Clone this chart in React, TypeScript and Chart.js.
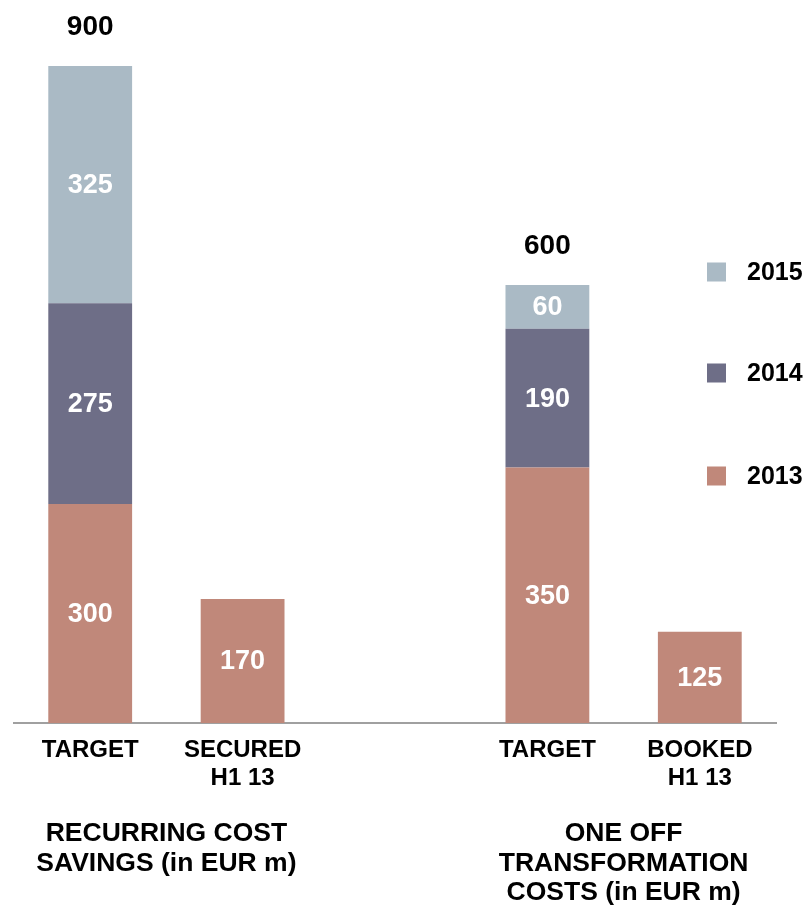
import React, { useEffect, useRef } from "react";
import { Chart, registerables } from "chart.js";

Chart.register(...registerables);

const categories: (string | string[])[] = [
  "TARGET",
  ["SECURED", "H1 13"],
  "",
  "TARGET",
  ["BOOKED", "H1 13"],
];
const seriesNames = ["2013", "2014", "2015"];
const values2013: (number | null)[] = [300, 170, null, 350, 125];
const values2014: (number | null)[] = [275, null, null, 190, null];
const values2015: (number | null)[] = [325, null, null, 60, null];
const groupLabels: string[][] = [
  ["RECURRING COST", "SAVINGS (in EUR m)"],
  ["ONE OFF", "TRANSFORMATION", "COSTS (in EUR m)"],
];
const groupMembers: number[][] = [
  [0, 1],
  [3, 4],
];
const yMax = 900;

const COLORS = ["#C0887A", "#6E6E87", "#AABAC5"];
const FONT = "'Liberation Sans', Arial, sans-serif";

const labelsPlugin = {
  id: "customLabels",
  afterDraw(chart: any) {
    const ctx = chart.ctx;
    ctx.save();
    ctx.textAlign = "center";
    ctx.textBaseline = "middle";
    // segment values
    ctx.font = `bold 27px ${FONT}`;
    ctx.fillStyle = "#FFFFFF";
    chart.data.datasets.forEach((ds: any, di: number) => {
      const meta = chart.getDatasetMeta(di);
      meta.data.forEach((el: any, i: number) => {
        const v = ds.data[i];
        if (v == null) return;
        ctx.fillText(String(v), el.x, (el.y + el.base) / 2 + 1);
      });
    });
    // totals for stacked bars
    ctx.font = `bold 28px ${FONT}`;
    ctx.fillStyle = "#000000";
    const n = chart.data.labels.length;
    for (let i = 0; i < n; i++) {
      let count = 0;
      let total = 0;
      let topY = Infinity;
      let x = 0;
      chart.data.datasets.forEach((ds: any, di: number) => {
        const v = ds.data[i];
        if (v == null) return;
        count++;
        total += v;
        const el = chart.getDatasetMeta(di).data[i];
        x = el.x;
        topY = Math.min(topY, el.y);
      });
      if (count > 1) ctx.fillText(String(total), x, topY - 39);
    }
    // group labels
    const xs = chart.scales.x;
    ctx.font = `bold 26.5px ${FONT}`;
    groupLabels.forEach((lines, gi) => {
      const mem = groupMembers[gi];
      const cx =
        mem.reduce((a, idx) => a + xs.getPixelForValue(idx), 0) / mem.length;
      const startY = 834;
      lines.forEach((line, li) => {
        ctx.fillText(line, cx, startY + li * 29.5);
      });
    });
    // legend
    const legendY = [476, 373, 272];
    ctx.font = `bold 25px ${FONT}`;
    ctx.textAlign = "left";
    seriesNames.forEach((name, si) => {
      const y = legendY[si];
      ctx.fillStyle = COLORS[si];
      ctx.fillRect(707, y - 9.5, 19, 19);
      ctx.fillStyle = "#000000";
      ctx.fillText(name, 747, y + 1);
    });
    ctx.restore();
  },
};

export default function App() {
  const ref = useRef<HTMLCanvasElement>(null);
  useEffect(() => {
    if (!ref.current) return;
    const chart = new Chart(ref.current, {
      type: "bar",
      data: {
        labels: categories,
        datasets: [values2013, values2014, values2015].map((d, i) => ({
          label: seriesNames[i],
          data: d,
          backgroundColor: COLORS[i],
          borderWidth: 0,
          barPercentage: 0.55,
          categoryPercentage: 1,
        })),
      },
      options: {
        responsive: false,
        animation: false,
        layout: { padding: { left: 14, right: 32, top: 66, bottom: 0 } },
        plugins: {
          legend: { display: false },
          tooltip: { enabled: false },
          title: { display: false },
        },
        scales: {
          x: {
            stacked: true,
            grid: { display: false, drawTicks: false },
            border: { display: true, color: "#A0A0A0", width: 2 },
            ticks: {
              color: "#000000",
              padding: 13,
              maxRotation: 0,
              autoSkip: false,
              font: { family: FONT, size: 24, weight: "bold", lineHeight: 28 / 24 },
            },
            afterFit: (scale: any) => {
              scale.height = 186;
            },
          },
          y: {
            stacked: true,
            display: false,
            min: 0,
            max: yMax,
          },
        },
      },
      plugins: [labelsPlugin],
    });
    return () => chart.destroy();
  }, []);
  return (
    <div style={{ position: "fixed", left: 0, top: 0, width: 808, height: 909, background: "#fff" }}>
      <canvas ref={ref} width={808} height={909} style={{ width: 808, height: 909 }} />
    </div>
  );
}
